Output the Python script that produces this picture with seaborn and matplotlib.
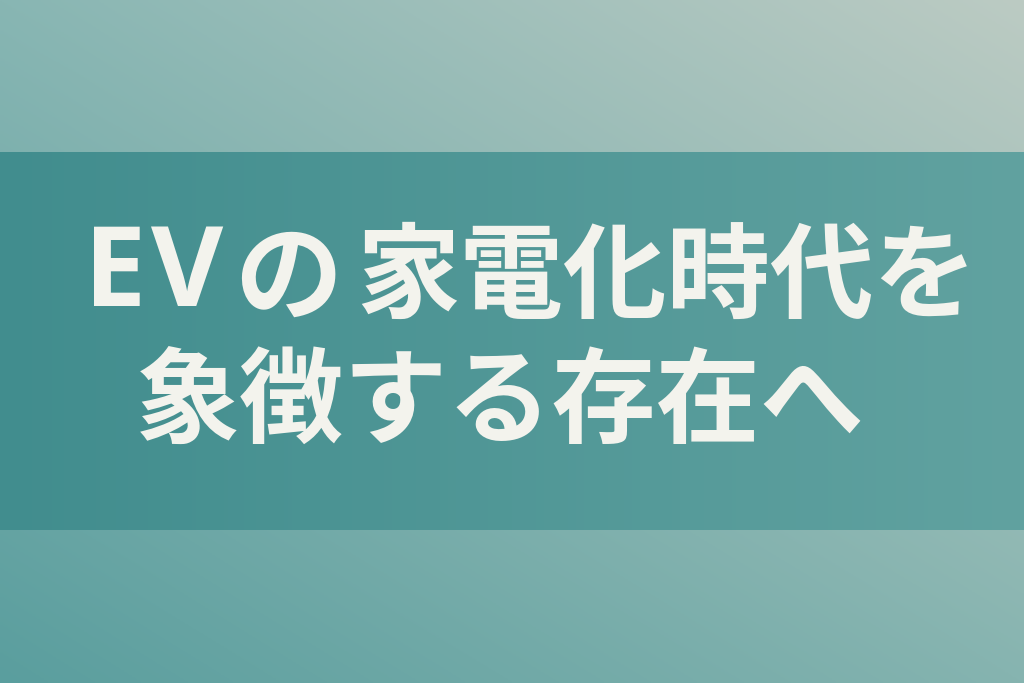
import numpy as np
import seaborn as sns
import matplotlib.pyplot as plt
from matplotlib.colors import to_rgb

# segmentos de texto: texto, x esquerda (px), y centro (px), tamanho (pt), família
segmentos_texto = ['E', 'V', 'の', '家電化時代を', '象徴する存在へ']
segmentos_x = [84, 151, 234, 356, 136]
segmentos_y = [277, 277, 280, 279, 405]
segmentos_tam = [80, 80, 78, 74.5, 75]
segmentos_fonte = ['Open Sans', 'Open Sans', 'Noto Sans CJK JP', 'Noto Sans CJK JP',
                   'Noto Sans CJK JP']

# cores do fundo (cantos) e da faixa
fundo_cantos = {'tl': '#88b6b3', 'tr': '#bccbc3', 'bl': '#5a9e9e', 'br': '#86b4b0'}
faixa_cores = ['#418d8e', '#61a2a0']
faixa_limites = [152, 530]
cor_texto = '#f3f3ed'

W, H = 1024, 683

sns.set_theme(style='white')
plt.rcParams['font.family'] = ['Noto Sans CJK JP', 'DejaVu Sans']

fig = plt.figure(figsize=(W / 100, H / 100), dpi=100)
ax = fig.add_axes([0, 0, 1, 1])
ax.set_xlim(0, W)
ax.set_ylim(H, 0)
ax.axis('off')

# gradiente bilinear do fundo
u = np.linspace(0, 1, 256)[None, :, None]
v = np.linspace(0, 1, 256)[:, None, None]
tl, tr, bl, br = (np.array(to_rgb(fundo_cantos[k])) for k in ['tl', 'tr', 'bl', 'br'])
topo = tl * (1 - u) + tr * u
base = bl * (1 - u) + br * u
img = topo * (1 - v) + base * v
ax.imshow(img, extent=[0, W, H, 0], aspect='auto', zorder=0)

# faixa central
c0, c1 = np.array(to_rgb(faixa_cores[0])), np.array(to_rgb(faixa_cores[1]))
faixa = (c0 * (1 - u) + c1 * u) * np.ones((8, 1, 1))
ax.imshow(faixa, extent=[0, W, faixa_limites[1], faixa_limites[0]], aspect='auto', zorder=1)

for texto, x, y, tam, fonte in zip(segmentos_texto, segmentos_x, segmentos_y,
                                   segmentos_tam, segmentos_fonte):
    ax.text(x, y, texto, color=cor_texto, fontsize=tam, fontweight='bold',
            family=[fonte, 'Noto Sans CJK JP', 'DejaVu Sans'],
            ha='left', va='center', zorder=2)

plt.savefig('out.png', dpi=100)
plt.close()
